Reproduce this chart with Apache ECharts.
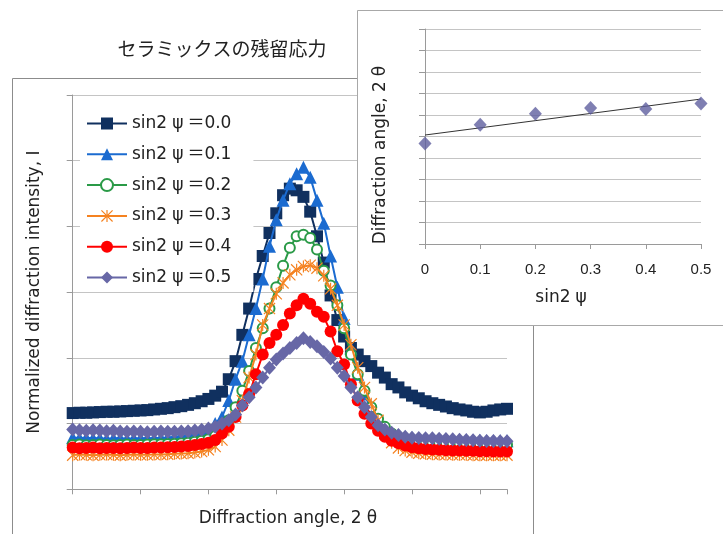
<!DOCTYPE html>
<html><head><meta charset="utf-8">
<script src="https://cdn.jsdelivr.net/npm/echarts@6/dist/echarts.min.js"></script>
<style>html,body{margin:0;padding:0;background:#fff}#c{width:723px;height:534px}</style>
</head><body><div id="c"></div>
<script>
// ---- data ----
const chartTitle = 'セラミックスの残留応力';
const seriesNames = ['sin2ψ＝0.0','sin2ψ＝0.1','sin2ψ＝0.2','sin2ψ＝0.3','sin2ψ＝0.4','sin2ψ＝0.5'];
// normalized intensity, 65 equally spaced diffraction-angle steps (index 0..64)
const s00 = [0.232,0.233,0.233,0.234,0.235,0.236,0.236,0.237,0.238,0.239,
             0.240,0.241,0.243,0.245,0.247,0.250,0.253,0.257,0.262,0.268,
             0.275,0.285,0.297,0.335,0.390,0.470,0.550,0.640,0.710,0.780,
             0.840,0.895,0.915,0.910,0.890,0.845,0.770,0.690,0.590,0.515,
             0.465,0.430,0.410,0.390,0.375,0.355,0.340,0.320,0.310,0.295,
             0.285,0.277,0.268,0.262,0.257,0.252,0.247,0.243,0.240,0.236,
             0.234,0.236,0.240,0.243,0.245];
const s01 = [0.158,0.156,0.157,0.155,0.156,0.154,0.155,0.156,0.154,0.155,
             0.155,0.156,0.155,0.157,0.158,0.160,0.162,0.165,0.168,0.172,
             0.180,0.200,0.220,0.270,0.335,0.390,0.470,0.550,0.640,0.740,
             0.820,0.880,0.930,0.960,0.980,0.950,0.880,0.810,0.710,0.615,
             0.520,0.430,0.350,0.290,0.240,0.205,0.185,0.172,0.165,0.160,
             0.157,0.155,0.154,0.153,0.152,0.152,0.151,0.150,0.150,0.149,
             0.149,0.148,0.148,0.148,0.148];
const s02 = [0.135,0.136,0.134,0.135,0.136,0.135,0.134,0.135,0.136,0.135,
             0.135,0.136,0.137,0.137,0.138,0.139,0.140,0.142,0.145,0.148,
             0.152,0.162,0.180,0.210,0.250,0.300,0.360,0.430,0.490,0.550,
             0.615,0.680,0.735,0.770,0.775,0.765,0.730,0.665,0.620,0.560,
             0.490,0.410,0.350,0.300,0.250,0.215,0.190,0.170,0.155,0.148,
             0.145,0.143,0.142,0.141,0.140,0.140,0.139,0.139,0.138,0.138,
             0.137,0.137,0.137,0.136,0.136];
const s03 = [0.104,0.106,0.105,0.104,0.105,0.106,0.105,0.104,0.105,0.106,
             0.105,0.105,0.106,0.106,0.107,0.108,0.109,0.110,0.112,0.115,
             0.120,0.130,0.150,0.180,0.220,0.270,0.340,0.410,0.500,0.550,
             0.595,0.628,0.653,0.668,0.678,0.682,0.673,0.650,0.610,0.560,
             0.500,0.440,0.370,0.310,0.260,0.210,0.170,0.142,0.126,0.118,
             0.113,0.110,0.108,0.107,0.106,0.106,0.105,0.105,0.105,0.104,
             0.104,0.104,0.104,0.104,0.104];
const s04 = [0.127,0.125,0.126,0.127,0.125,0.126,0.126,0.125,0.126,0.127,
             0.126,0.126,0.127,0.127,0.128,0.129,0.130,0.132,0.135,0.138,
             0.142,0.150,0.170,0.190,0.220,0.255,0.290,0.350,0.410,0.445,
             0.470,0.500,0.535,0.560,0.580,0.565,0.540,0.525,0.480,0.420,
             0.380,0.320,0.270,0.230,0.200,0.178,0.160,0.148,0.140,0.133,
             0.128,0.125,0.123,0.121,0.120,0.119,0.118,0.118,0.117,0.117,
             0.116,0.116,0.115,0.115,0.115];
const s05 = [0.182,0.180,0.178,0.180,0.179,0.177,0.178,0.176,0.175,0.176,
             0.175,0.174,0.175,0.176,0.175,0.175,0.176,0.177,0.179,0.181,
             0.185,0.190,0.200,0.210,0.228,0.255,0.280,0.310,0.340,0.370,
             0.395,0.413,0.430,0.445,0.460,0.448,0.435,0.418,0.398,0.370,
             0.345,0.310,0.280,0.250,0.220,0.195,0.182,0.172,0.165,0.160,
             0.157,0.156,0.155,0.155,0.154,0.153,0.152,0.151,0.150,0.149,
             0.148,0.147,0.147,0.146,0.146];
const mainSeries = [s00,s01,s02,s03,s04,s05];
// inset: peak position vs sin2ψ
const insetSin = [0, 0.1, 0.2, 0.3, 0.4, 0.5];
const insetTheta = [4.68, 5.55, 6.06, 6.33, 6.28, 6.53];

// ---- styles ----
const LATIN = "'DejaVu Sans','Noto Sans CJK JP',sans-serif";
const colors = ['#10305f','#1b6bd0','#2a9a47','#f58220','#ff0000','#6767a6'];
const asterisk = 'path://M9,0L11,0L11,20L9,20Z M1.4,0L0,1.4L18.6,20L20,18.6Z M18.6,0L20,1.4L1.4,20L0,18.6Z';
const symbols = ['rect','triangle','emptyCircle',asterisk,'circle','diamond'];
const symSizes = [12,13,10,12,12,[13,14]];

// linear trend line (least squares) for the inset
const n = insetSin.length;
const mx = insetSin.reduce((a,b)=>a+b,0)/n, my = insetTheta.reduce((a,b)=>a+b,0)/n;
let sxy=0,sxx=0; for(let i=0;i<n;i++){sxy+=(insetSin[i]-mx)*(insetTheta[i]-my);sxx+=(insetSin[i]-mx)**2;}
const slope=sxy/sxx, icpt=my-slope*mx;
const trend = [[0,icpt],[0.5,icpt+slope*0.5]];

const greek = {padding:[0,4,0,5], fontFamily:LATIN, fontSize:17, color:'#222'};

const chart = echarts.init(document.getElementById('c'), null, {renderer:'canvas'});
const series = mainSeries.map((arr,k)=>({
  name: seriesNames[k], type:'line', xAxisIndex:0, yAxisIndex:0,
  data: arr.map((v,i)=>[i,v]),
  symbol: symbols[k], symbolSize: symSizes[k], showAllSymbol:true,
  lineStyle:{color:colors[k], width:2},
  itemStyle:{color:colors[k], borderColor:colors[k], borderWidth: k===2?1.6:0},
  z: 2+k
}));
series.push({type:'line', xAxisIndex:1, yAxisIndex:1, data:trend, symbol:'none',
  lineStyle:{color:'#333', width:1}, z:12, silent:true});
series.push({type:'scatter', xAxisIndex:1, yAxisIndex:1, data: insetSin.map((x,i)=>[x,insetTheta[i]]),
  symbol:'diamond', symbolSize:[13,14], itemStyle:{color:'#5f5f9f'}, z:13});

chart.setOption({
  animation:false,
  textStyle:{fontFamily:LATIN},
  grid:[
    {left:72.7, top:95, right:723-507, bottom:534-489.3},
    {left:425, top:29, right:723-701, bottom:534-244}
  ],
  legend:{
    data: seriesNames, orient:'vertical', left:80, top:111, z:4,
    backgroundColor:'#fff', padding:[4,22,6,6],
    itemWidth:40, itemHeight:15, itemGap:13.8,
    formatter: nm => nm.replace('ψ','{g|ψ}'),
    textStyle:{fontSize:17, color:'#222', fontFamily:LATIN, rich:{g:greek}}
  },
  xAxis:[
    {type:'value', gridIndex:0, min:0, max:64, interval:10,
     axisLine:{lineStyle:{color:'#9a9a9a'}}, axisTick:{show:true, length:5, lineStyle:{color:'#9a9a9a'}},
     axisLabel:{show:false}, splitLine:{show:false},
     name:'Diffraction angle, 2{g|θ}', nameLocation:'middle', nameGap:21,
     nameTextStyle:{fontSize:17, color:'#222', fontFamily:LATIN, rich:{g:greek}}},
    {type:'value', gridIndex:1, min:0, max:0.5, interval:0.1, z:11,
     axisLine:{lineStyle:{color:'#9a9a9a'}}, axisTick:{show:true, length:5, lineStyle:{color:'#9a9a9a'}},
     axisLabel:{fontSize:15, color:'#222', margin:18, fontFamily:"'Liberation Sans',sans-serif"}, splitLine:{show:false},
     name:'sin2{g|ψ}', nameLocation:'middle', nameGap:45,
     nameTextStyle:{fontSize:17, color:'#222', fontFamily:LATIN, rich:{g:greek}}}
  ],
  yAxis:[
    {type:'value', gridIndex:0, min:0, max:1.2, interval:0.2,
     axisLine:{show:true, lineStyle:{color:'#9a9a9a'}}, axisTick:{show:true, length:6, lineStyle:{color:'#9a9a9a'}},
     axisLabel:{show:false}, splitLine:{lineStyle:{color:'#c4c4c4'}},
     name:'Normalized diffraction intensity, I', nameLocation:'middle', nameGap:30,
     nameTextStyle:{fontSize:17, color:'#222', fontFamily:LATIN}},
    {type:'value', gridIndex:1, min:0, max:10, interval:1, z:11,
     axisLine:{show:true, lineStyle:{color:'#9a9a9a'}}, axisTick:{show:true, length:6, lineStyle:{color:'#9a9a9a'}},
     axisLabel:{show:false}, splitLine:{lineStyle:{color:'#c4c4c4'}}}
  ],
  graphic:[
    {type:'rect', z:1, shape:{x:12.5, y:78.5, width:521, height:480}, style:{fill:null, stroke:'#8c8c8c', lineWidth:1}},
    {type:'rect', z:10, shape:{x:357.5, y:10.5, width:400, height:315}, style:{fill:'#fff', stroke:'#a8a8a8', lineWidth:1}},
    {type:'text', z:20, x:222, y:49, style:{text:chartTitle, font:"19px 'Noto Sans CJK JP'", fill:'#222', textAlign:'center', textVerticalAlign:'middle'}},
    {type:'text', z:20, x:381, y:153, rotation:Math.PI/2, style:{text:'Diffraction angle, 2{g|θ}', fontFamily:LATIN, fontSize:17, fill:'#222', rich:{g:greek}, textAlign:'center', textVerticalAlign:'middle'}}
  ],
  series: series
});
</script></body></html>
